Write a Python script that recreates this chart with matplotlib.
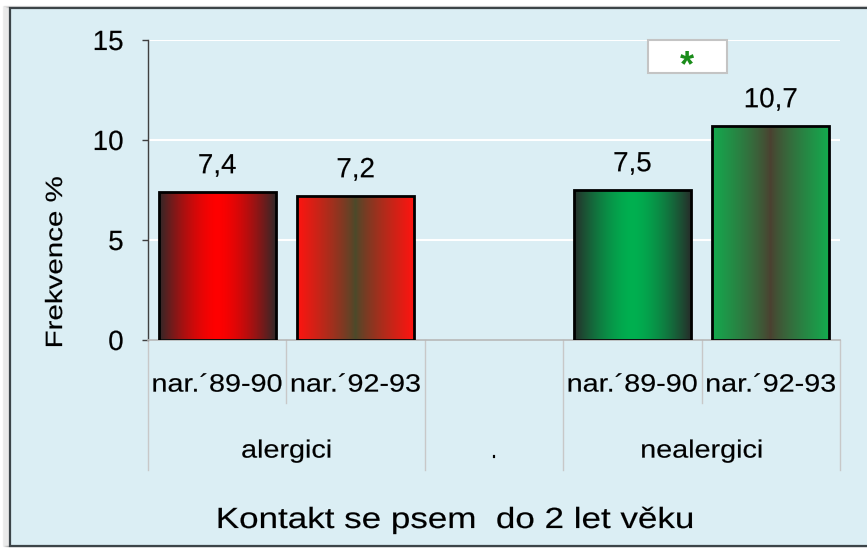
import numpy as np
import matplotlib
matplotlib.use("Agg")
import matplotlib.pyplot as plt
from matplotlib.patches import Rectangle
from matplotlib.patheffects import AbstractPathEffect
from matplotlib.transforms import Affine2D, blended_transform_factory
from matplotlib.lines import Line2D

# ---------------- data ----------------
groups = ["alergici", ".", "nealergici"]
group_sizes = [2, 1, 2]
sub_labels = ["nar.´89-90", "nar.´92-93", "", "nar.´89-90", "nar.´92-93"]
values = [7.4, 7.2, None, 7.5, 10.7]
y_ticks = [0, 5, 10, 15]
title = "Kontakt se psem  do 2 let věku"
ylabel = "Frekvence %"
signif = "*"

# ---------------- styles ----------------
W, H = 867, 548
BG = "#DBEEF4"
bar_styles = [
    dict(edge="#302828", center="#ff0000"),
    dict(edge="#ff1410", center="#4a4a2a"),
    None,
    dict(edge="#262e2a", center="#00b050"),
    dict(edge="#14aa4e", center="#4c4030"),
]
plt.rcParams["font.family"] = ["Liberation Sans", "DejaVu Sans"]


class Stretch(AbstractPathEffect):
    """Widen glyphs horizontally around the text centre, with a light stroke."""
    def __init__(self, sx=1.0, stroke=0.12):
        super().__init__()
        self.sx = sx
        self.stroke = stroke

    def draw_path(self, renderer, gc, tpath, affine, rgbFace=None):
        ext = tpath.get_extents()
        cx = (ext.x0 + ext.x1) / 2
        t = Affine2D().translate(-cx, 0).scale(self.sx, 1).translate(cx, 0) + affine
        gc0 = renderer.new_gc()
        gc0.copy_properties(gc)
        if rgbFace is not None and self.stroke > 0:
            gc0.set_foreground(rgbFace)
            gc0.set_linewidth(self.stroke)
        renderer.draw_path(gc0, tpath, t, rgbFace)
        gc0.restore()


fig = plt.figure(figsize=(W / 100, H / 100), dpi=100)
fig.patch.set_facecolor("white")

# background panel with border and soft shadow
px = lambda x: x / W
py = lambda y: 1 - y / H
for i in range(1, 8):
    fig.patches.append(Rectangle((px(10 - i), py(546)), 1.2, py(8 - i * 0.3) - py(546),
                                 transform=fig.transFigure, facecolor="none",
                                 edgecolor="#000000", alpha=0.06, lw=1.0, zorder=-3))
fig.patches.append(Rectangle((px(10), py(546)), 1.2, py(8) - py(546),
                             transform=fig.transFigure, facecolor=BG,
                             edgecolor="#3c4448", lw=1.6, zorder=-2))

ax = fig.add_axes([px(148), py(340), px(840) - px(148), py(40) - py(340)])
ax.set_facecolor("none")
n = len(values)
ax.set_xlim(0, n)
ax.set_ylim(0, 15)

# grid
for yv in y_ticks[1:]:
    ax.axhline(yv, color="white", lw=1.5, zorder=1)

# bars with gradient
bw = 0.845
u = np.linspace(0, 1, 200)
t = np.abs(2 * u - 1)
for i, (v, st) in enumerate(zip(values, bar_styles)):
    if v is None:
        continue
    x0 = i + 0.5 - bw / 2
    ce = np.array(matplotlib.colors.to_rgb(st["center"]))
    ed = np.array(matplotlib.colors.to_rgb(st["edge"]))
    if i % 3 == 0:
        m = np.clip(t, 0, 1) ** 1.6
    else:
        m = np.clip(t, 0, 1) ** 0.8
    img = ce[None, :] * (1 - m[:, None]) + ed[None, :] * m[:, None]
    ax.imshow(img[None, :, :], extent=[x0, x0 + bw, 0, v], aspect="auto",
              interpolation="bilinear", zorder=2)
    ax.add_patch(Rectangle((x0, 0), bw, v, facecolor="none", edgecolor="black",
                           lw=2.0, zorder=3))
    lab = f"{v:.1f}".replace(".", ",")
    ax.annotate(lab, (i + 0.5, v), xytext=(0, 13.5), textcoords="offset points",
                ha="center", va="baseline", fontsize=20, color="black", zorder=4,
                path_effects=[Stretch(1.0)])

ax.set_xlim(0, n)
ax.set_ylim(0, 15)

# axes styling
for s in ["top", "right"]:
    ax.spines[s].set_visible(False)
ax.spines["left"].set_color("#404040")
ax.spines["left"].set_linewidth(1.0)
ax.spines["bottom"].set_color("#b8b8b8")
ax.spines["bottom"].set_linewidth(1.2)
ax.set_yticks(y_ticks)
ax.set_yticklabels([str(v) for v in y_ticks], fontsize=20)
for tl in ax.get_yticklabels():
    tl.set_path_effects([Stretch(1.0)])
ax.tick_params(axis="y", length=4.5, width=1.0, color="#404040", pad=13)
ax.set_xticks([])

# category axis separators and labels
bt = blended_transform_factory(ax.transData, ax.transAxes)
group_edges = np.concatenate([[0], np.cumsum(group_sizes)])
for ge in group_edges:
    ax.add_line(Line2D([ge, ge], [0, -0.433], transform=bt, color="#c8c8c8",
                       lw=1.0, clip_on=False))
for g0, g1 in zip(group_edges[:-1], group_edges[1:]):
    for k in range(g0 + 1, g1):
        ax.add_line(Line2D([k, k], [0, -0.21], transform=bt, color="#c8c8c8",
                           lw=1.0, clip_on=False))
for i, lab in enumerate(sub_labels):
    if lab:
        ax.text(i + 0.5, -0.172, lab, transform=bt, ha="center", va="baseline",
                fontsize=18, path_effects=[Stretch(1.15)])
for g, g0, g1 in zip(groups, group_edges[:-1], group_edges[1:]):
    ax.text((g0 + g1) / 2, -0.392, g, transform=bt, ha="center", va="baseline",
            fontsize=18, path_effects=[Stretch(1.15)])

# y label
ax.set_ylabel(ylabel, fontsize=17, path_effects=[Stretch(1.25)])
ax.yaxis.set_label_coords(-0.117, 0.26)

# significance box
ax.add_patch(Rectangle((3.61, 13.35), 0.57, 1.65, facecolor="white",
                       edgecolor="#c4c4c4", lw=1.5, zorder=4, clip_on=False))
ax.text(3.895, 13.2, signif, ha="center", va="baseline", fontsize=26,
        fontweight="bold", color="#1a8c1a", zorder=5)

# title
fig.text(px(455), py(528), title, ha="center", va="baseline", fontsize=21,
         path_effects=[Stretch(1.2)])

fig.savefig("out.png", dpi=100, facecolor=fig.get_facecolor())
